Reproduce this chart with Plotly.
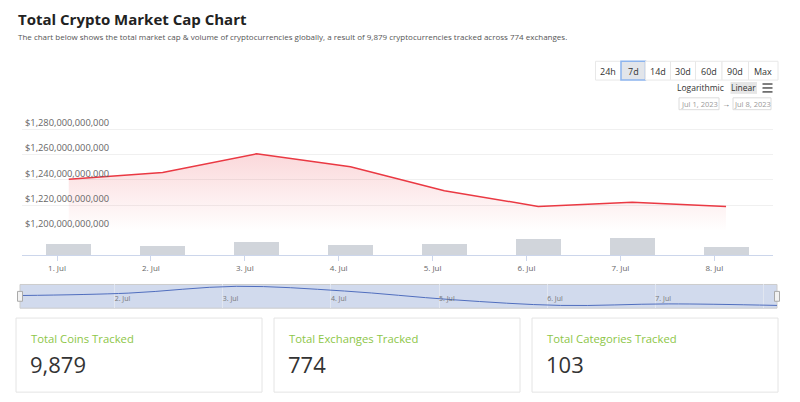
import plotly.graph_objects as go

# ---------------- data ----------------
dates = ["2023-07-01 03:00", "2023-07-02 03:00", "2023-07-03 03:00", "2023-07-04 03:00",
         "2023-07-05 03:00", "2023-07-06 03:00", "2023-07-07 03:00", "2023-07-08 03:00"]
market_cap = [1240.5e9, 1245.7e9, 1260.5e9, 1250.3e9, 1231.4e9, 1219.0e9, 1222.3e9, 1219.0e9]
volume = [28.8e9, 22.9e9, 32.0e9, 25.4e9, 28.8e9, 40.1e9, 41.9e9, 20.4e9]
x_tickvals = ["2023-07-01", "2023-07-02", "2023-07-03", "2023-07-04",
              "2023-07-05", "2023-07-06", "2023-07-07", "2023-07-08"]
x_ticktext = ["1. Jul", "2. Jul", "3. Jul", "4. Jul", "5. Jul", "6. Jul", "7. Jul", "8. Jul"]
y_tickvals = [1200e9, 1220e9, 1240e9, 1260e9, 1280e9]
y_ticktext = ["$1,200,000,000,000", "$1,220,000,000,000", "$1,240,000,000,000",
              "$1,260,000,000,000", "$1,280,000,000,000"]
range_buttons = ["24h", "7d", "14d", "30d", "60d", "90d", "Max"]
selected_button = "7d"
card_labels = ["Total Coins Tracked", "Total Exchanges Tracked", "Total Categories Tracked"]
card_values = ["9,879", "774", "103"]
date_from = "Jul 1, 2023"
date_to = "Jul 8, 2023"

W, H = 800, 402
FONT = "Open Sans"
RED = "rgb(234,57,67)"
X_RANGE = ["2023-06-30 15:03", "2023-07-08 15:00"]


def px(x):
    return x / W


def py(y):
    return 1 - y / H


fig = go.Figure()

# price area line
fig.add_trace(go.Scatter(
    x=dates, y=market_cap, mode="lines", xaxis="x", yaxis="y",
    line=dict(color=RED, width=1.5),
    fill="tozeroy",
    fillgradient=dict(type="vertical",
                      colorscale=[[0, "rgba(234,57,67,0)"], [1, "rgba(234,57,67,0.2)"]],
                      start=1200e9, stop=1262e9),
    hoverinfo="x+y", showlegend=False,
))

# volume bars (own x axis so its tick labels are not hidden by the inside y labels)
fig.add_trace(go.Bar(
    x=dates, y=volume, xaxis="x2", yaxis="y2",
    marker=dict(color="rgb(209,213,219)", line=dict(width=0)),
    width=0.48 * 86400000, showlegend=False,
))

# navigator series
fig.add_trace(go.Scatter(
    x=dates, y=market_cap, mode="lines", xaxis="x3", yaxis="y3",
    line=dict(color="rgb(80,110,190)", width=1, shape="spline", smoothing=1.0),
    showlegend=False, hoverinfo="skip",
))

shapes = []
annotations = []

# navigator background (selected range covers whole navigator)
shapes.append(dict(type="rect", xref="paper", yref="paper", layer="below",
                   x0=px(20), x1=px(777), y0=py(307), y1=py(283),
                   fillcolor="rgba(102,133,194,0.3)", line=dict(color="rgb(204,204,204)", width=1)))
# navigator handles
for hx in (20, 777):
    shapes.append(dict(type="rect", xref="paper", yref="paper",
                       x0=px(hx - 2.5), x1=px(hx + 2.5), y0=py(300), y1=py(290),
                       fillcolor="rgb(242,242,242)", line=dict(color="rgb(170,170,170)", width=1)))

# title & subtitle
annotations.append(dict(text="<b>Total Crypto Market Cap Chart</b>", xref="paper", yref="paper",
                        x=px(16), y=py(14), xanchor="left", yanchor="middle", showarrow=False,
                        font=dict(family=FONT, size=15, color="#222")))
annotations.append(dict(text="The chart below shows the total market cap & volume of cryptocurrencies globally, "
                             "a result of 9,879 cryptocurrencies tracked across 774 exchanges.",
                        xref="paper", yref="paper", x=px(16), y=py(32), xanchor="left", yanchor="middle",
                        showarrow=False, font=dict(family=FONT, size=8, color="#555")))

# range buttons
edges = [595.5, 621, 645.5, 670.5, 695.5, 722, 748.5, 778]
for i, lab in enumerate(range_buttons):
    sel = lab == selected_button
    shapes.append(dict(type="rect", xref="paper", yref="paper",
                       x0=px(edges[i]), x1=px(edges[i + 1]), y0=py(76), y1=py(57),
                       fillcolor="rgb(226,229,234)" if sel else "white",
                       line=dict(color="rgb(140,180,238)" if sel else "rgb(232,232,232)",
                                 width=1.5 if sel else 1)))
    annotations.append(dict(text=lab, xref="paper", yref="paper",
                            x=px((edges[i] + edges[i + 1]) / 2), y=py(67), xanchor="center",
                            yanchor="middle", showarrow=False,
                            font=dict(family=FONT, size=9, color="#333")))

# scale toggle
annotations.append(dict(text="Logarithmic", xref="paper", yref="paper", x=px(726), y=py(84),
                        xanchor="right", yanchor="middle", showarrow=False,
                        font=dict(family=FONT, size=8.5, color="#333")))
shapes.append(dict(type="rect", xref="paper", yref="paper", x0=px(730.5), x1=px(757), y0=py(90), y1=py(78),
                   fillcolor="rgb(230,230,230)", line=dict(width=0)))
annotations.append(dict(text="Linear", xref="paper", yref="paper", x=px(743.7), y=py(84),
                        xanchor="center", yanchor="middle", showarrow=False,
                        font=dict(family=FONT, size=8.5, color="#333")))
for yy in (80, 84, 88):
    shapes.append(dict(type="line", xref="paper", yref="paper", x0=px(762.5), x1=px(772.5),
                       y0=py(yy), y1=py(yy), line=dict(color="#555", width=1.5)))

# date inputs
for (x0, x1, txt) in ((679, 719, date_from), (733, 771, date_to)):
    shapes.append(dict(type="rect", xref="paper", yref="paper", x0=px(x0), x1=px(x1), y0=py(106), y1=py(94),
                       fillcolor="white", line=dict(color="rgb(220,220,220)", width=1)))
    annotations.append(dict(text=txt, xref="paper", yref="paper", x=px((x0 + x1) / 2), y=py(100),
                            xanchor="center", yanchor="middle", showarrow=False,
                            font=dict(family=FONT, size=7.5, color="#999")))
annotations.append(dict(text="→", xref="paper", yref="paper", x=px(726), y=py(100),
                        xanchor="center", yanchor="middle", showarrow=False,
                        font=dict(family=FONT, size=8, color="#666")))

# stat cards
card_x = [(16, 262), (274, 520), (532, 778)]
for (x0, x1), lab, val in zip(card_x, card_labels, card_values):
    shapes.append(dict(type="rect", xref="paper", yref="paper", x0=px(x0), x1=px(x1), y0=py(392), y1=py(317),
                       fillcolor="white", line=dict(color="rgb(228,228,228)", width=1)))
    annotations.append(dict(text=lab, xref="paper", yref="paper", x=px(x0 + 13), y=py(338),
                            xanchor="left", yanchor="middle", showarrow=False,
                            font=dict(family=FONT, size=11.3, color="rgb(141,198,71)")))
    annotations.append(dict(text=val, xref="paper", yref="paper", x=px(x0 + 12), y=py(364),
                            xanchor="left", yanchor="middle", showarrow=False,
                            font=dict(family=FONT, size=22, color="#333")))

fig.update_layout(
    width=W, height=H,
    margin=dict(l=0, r=0, t=0, b=0),
    paper_bgcolor="white", plot_bgcolor="rgba(0,0,0,0)",
    font=dict(family=FONT, color="#666"),
    bargap=0,
    showlegend=False,
    shapes=shapes, annotations=annotations,
    xaxis=dict(domain=[px(22), px(773)], anchor="y", type="date", range=X_RANGE,
               showgrid=False, zeroline=False, showline=False, showticklabels=False, ticks=""),
    yaxis=dict(domain=[py(228.3), py(117.7)], anchor="x", range=[1200e9, 1286.2e9],
               tickmode="array", tickvals=y_tickvals, ticktext=y_ticktext,
               ticklabelposition="inside top", ticklabeloverflow="allow",
               showgrid=True, gridcolor="rgb(240,240,240)",
               zeroline=False, showline=False, ticks="",
               tickfont=dict(family=FONT, size=9.3, color="#666")),
    xaxis2=dict(domain=[px(22), px(773)], anchor="y2", type="date", range=X_RANGE,
                showgrid=False, zeroline=False,
                showline=True, linecolor="rgb(204,214,235)", linewidth=1,
                ticks="outside", ticklen=5, tickcolor="rgb(204,214,235)",
                tickmode="array", tickvals=x_tickvals, ticktext=x_ticktext,
                tickfont=dict(family=FONT, size=8, color="#666")),
    yaxis2=dict(domain=[py(253.3), py(233)], anchor="x2", range=[0, 50e9],
                showgrid=False, showticklabels=False, zeroline=False, showline=False),
    xaxis3=dict(domain=[px(20), px(777)], anchor="y3", type="date",
                range=["2023-07-01 03:00", "2023-07-08 03:00"],
                showgrid=True, gridcolor="rgb(225,230,240)", zeroline=False, showline=False,
                tickmode="array", tickvals=x_tickvals[1:], ticktext=x_ticktext[1:],
                ticklabelposition="inside right", ticks="",
                tickfont=dict(family=FONT, size=7, color="#777")),
    yaxis3=dict(domain=[py(307), py(283)], anchor="x3", range=[1213e9, 1264.5e9],
                showgrid=False, showticklabels=False, zeroline=False, showline=False),
)

post = ("document.documentElement.style.margin='0';document.body.style.margin='0';"
        "document.body.style.padding='0';document.body.style.overflow='hidden';"
        "var d=document.getElementById('{plot_id}');d.style.position='fixed';"
        "d.style.top='0px';d.style.left='0px';")
fig.write_html("out.html", config={"displayModeBar": False}, post_script=post)
